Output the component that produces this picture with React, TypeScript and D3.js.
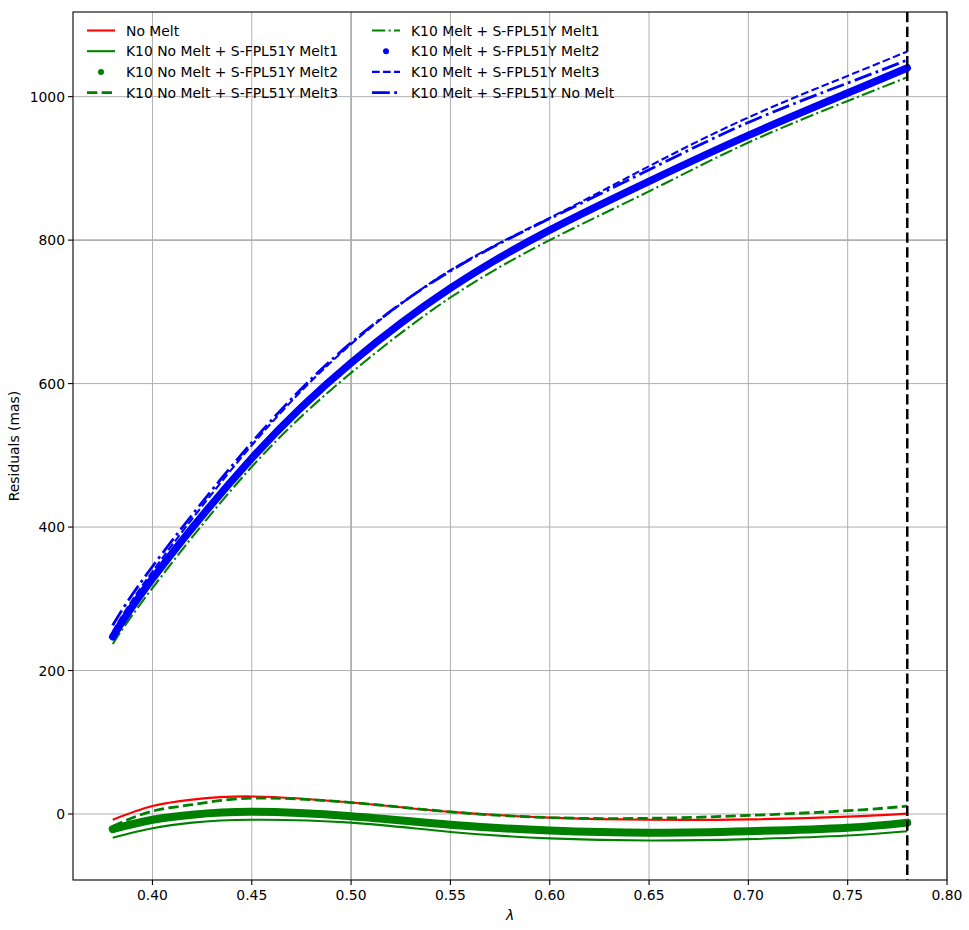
import React from "react";
import * as d3 from "d3";

const xUpper = [0.38, 0.40, 0.45, 0.50, 0.55, 0.60, 0.65, 0.70, 0.75, 0.78];
const blueMelt2 = [247, 328, 496, 629, 733, 814, 882, 946, 1005, 1040];
const blueMelt3 = [254, 338, 514, 655, 758, 831, 903, 971, 1029, 1063];
const blueNoMelt = [263, 345, 518, 657, 757, 830, 898, 964, 1019, 1051];
const greenMelt1Upper = [237, 315, 484, 615, 720, 800, 868, 936, 994, 1027];

const xLower = [0.38, 0.40, 0.42, 0.45, 0.50, 0.55, 0.60, 0.65, 0.70, 0.75, 0.78];
const redNoMelt = [-8, 11, 20, 24.5, 16, 3, -5, -8, -7.5, -3.7, 0.5];
const greenMelt1 = [-33, -20, -12, -8, -12, -25, -34, -37, -35, -30, -24];
const greenMelt2 = [-21, -8, -1, 3, -3, -15, -23, -26, -24, -19, -12];
const greenMelt3 = [-17, 4, 13, 22, 16, 3, -5, -6, -2, 4.6, 11];

const xTicks = [0.40, 0.45, 0.50, 0.55, 0.60, 0.65, 0.70, 0.75, 0.80];
const yTicks = [0, 200, 400, 600, 800, 1000];
const vLine = 0.78;

const W = 969, H = 930;
const L = 73, R = 947, T = 12, B = 880;
const FONT = "DejaVu Sans, sans-serif";
const FS = 13.9;

type Series = { label: string; xs: number[]; ys: number[]; color: string; width: number; dash?: string; dots?: boolean };

export default function App() {
  const x = d3.scaleLinear().domain([0.36, 0.80]).range([L, R]);
  const y = d3.scaleLinear().domain([-92, 1118]).range([B, T]);

  const series: Series[] = [
    { label: "No Melt", xs: xLower, ys: redNoMelt, color: "#ff0000", width: 2.08 },
    { label: "K10 No Melt + S-FPL51Y Melt1", xs: xLower, ys: greenMelt1, color: "#008000", width: 2.08 },
    { label: "K10 No Melt + S-FPL51Y Melt2", xs: xLower, ys: greenMelt2, color: "#008000", width: 8, dots: true },
    { label: "K10 No Melt + S-FPL51Y Melt3", xs: xLower, ys: greenMelt3, color: "#008000", width: 2.78, dash: "10.3,4.4" },
    { label: "K10 Melt + S-FPL51Y Melt1", xs: xUpper, ys: greenMelt1Upper, color: "#008000", width: 2.08, dash: "13.3,3.3,2.1,3.3" },
    { label: "K10 Melt + S-FPL51Y Melt2", xs: xUpper, ys: blueMelt2, color: "#0000ff", width: 7.5, dots: true },
    { label: "K10 Melt + S-FPL51Y Melt3", xs: xUpper, ys: blueMelt3, color: "#0000ff", width: 2.08, dash: "7.7,3.3" },
    { label: "K10 Melt + S-FPL51Y No Melt", xs: xUpper, ys: blueNoMelt, color: "#0000ff", width: 2.78, dash: "17.8,4.4,2.8,4.4" },
  ];

  const line = d3.line<[number, number]>()
    .x((d) => x(d[0]))
    .y((d) => y(d[1]))
    .curve(d3.curveNatural);

  return (
    <svg width={W} height={H} style={{ position: "absolute", left: 0, top: 0, background: "#fff" }} fontFamily={FONT}>
      <rect x={0} y={0} width={W} height={H} fill="#fff" />
      <defs>
        <clipPath id="plot">
          <rect x={L} y={T} width={R - L} height={B - T} />
        </clipPath>
      </defs>
      {xTicks.map((t) => (
        <line key={"gx" + t} x1={x(t)} x2={x(t)} y1={T} y2={B} stroke="#b0b0b0" strokeWidth={Math.abs(t - 0.5) < 1e-9 ? 1.8 : 1} />
      ))}
      {yTicks.map((t) => (
        <line key={"gy" + t} x1={L} x2={R} y1={y(t)} y2={y(t)} stroke="#b0b0b0" strokeWidth={t === 800 ? 1.8 : 1} />
      ))}
      <g clipPath="url(#plot)">
        {series.map((s) => {
          const pts: [number, number][] = s.xs.map((v, k) => [v, s.ys[k]]);
          return (
            <path key={s.label} d={line(pts) || ""} fill="none" stroke={s.color} strokeWidth={s.width}
              strokeDasharray={s.dash} strokeLinecap={s.dots ? "round" : "butt"} strokeLinejoin="round" />
          );
        })}
        <line x1={x(vLine)} x2={x(vLine)} y1={T} y2={B} stroke="#000" strokeWidth={2.5} strokeDasharray="10.3,4.4" />
      </g>
      <rect x={L} y={T} width={R - L} height={B - T} fill="none" stroke="#000" strokeWidth={1.1} />
      {xTicks.map((t) => (
        <g key={"tx" + t}>
          <line x1={x(t)} x2={x(t)} y1={B} y2={B + 5} stroke="#000" strokeWidth={1.1} />
          <text x={x(t)} y={B + 19.5} fontSize={FS} textAnchor="middle" fill="#000">{t.toFixed(2)}</text>
        </g>
      ))}
      {yTicks.map((t) => (
        <g key={"ty" + t}>
          <line x1={L - 5} x2={L} y1={y(t)} y2={y(t)} stroke="#000" strokeWidth={1.1} />
          <text x={L - 8} y={y(t) + 5} fontSize={FS} textAnchor="end" fill="#000">{t}</text>
        </g>
      ))}
      <text x={510} y={920} fontSize={FS} textAnchor="middle" fontStyle="italic" fill="#000">λ</text>
      <text transform={`translate(19,${(T + B) / 2}) rotate(-90)`} fontSize={FS} textAnchor="middle" fill="#000">Residuals (mas)</text>
      {series.map((s, i) => {
        const col = i < 4 ? 0 : 1;
        const row = i % 4;
        const hx = col === 0 ? 87 : 372;
        const cy = 30.5 + row * 20.7;
        return (
          <g key={"lg" + i}>
            {s.dots ? (
              <circle cx={hx + 14} cy={cy} r={3} fill={s.color} />
            ) : (
              <line x1={hx} x2={hx + 28} y1={cy} y2={cy} stroke={s.color} strokeWidth={s.width} strokeDasharray={s.dash} />
            )}
            <text x={hx + 39} y={cy + 5} fontSize={FS} fill="#000">{s.label}</text>
          </g>
        );
      })}
    </svg>
  );
}
